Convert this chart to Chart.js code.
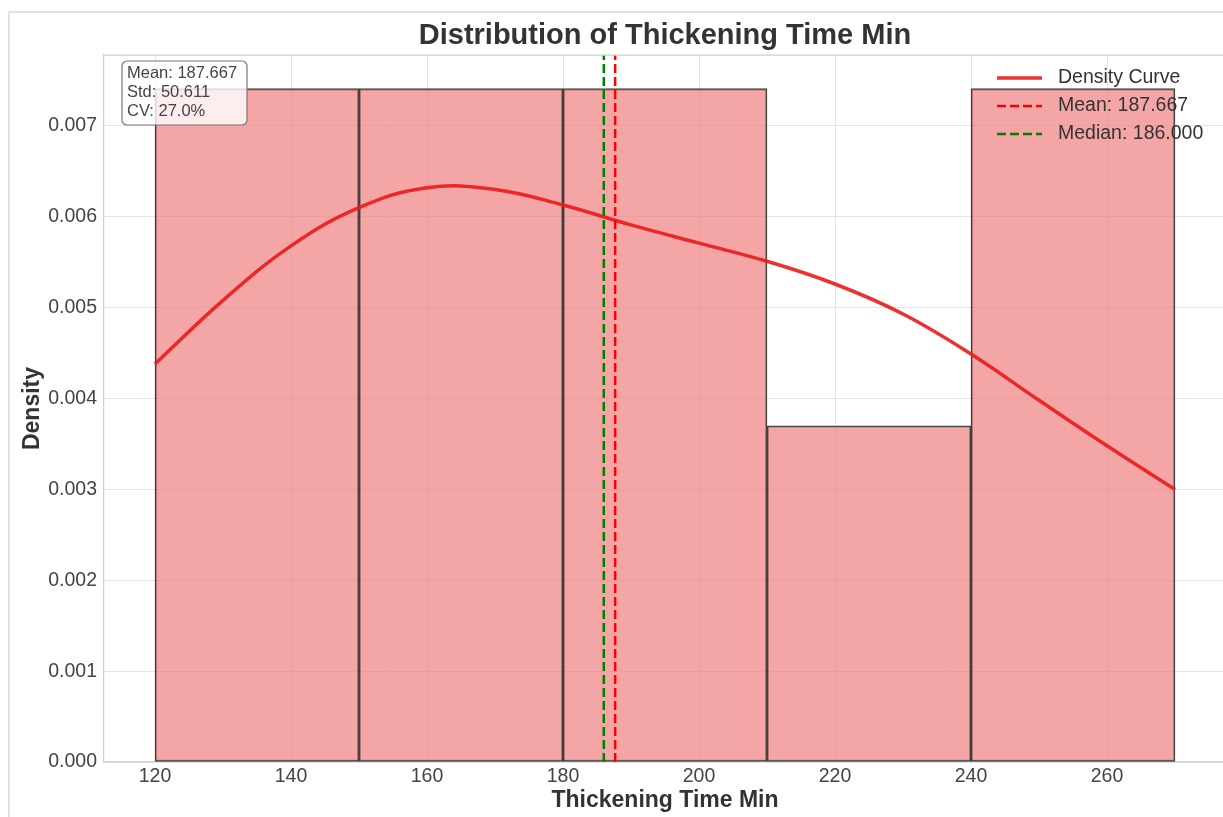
<!DOCTYPE html>
<html>
<head>
<meta charset="utf-8">
<script src="https://cdn.jsdelivr.net/npm/chart.js@4.4.1/dist/chart.umd.min.js"></script>
<style>
  html, body { margin:0; padding:0; background:#fff; overflow:hidden; width:1223px; height:817px; }
  #frame { position:absolute; left:8px; top:11px; width:1400px; height:1000px; border:2px solid #e2e2e2; box-sizing:border-box; }
  #wrap { position:absolute; left:0; top:0; width:1240px; height:817px; }
</style>
</head>
<body>
<div id="frame"></div>
<div id="wrap"><canvas id="c" width="1240" height="817"></canvas></div>
<script>
// ---- data ----
const binEdges = [120, 150, 180, 210, 240, 270];
const binDensity = [0.00741, 0.00741, 0.00741, 0.0037, 0.00741];
const kdeX = [120, 130, 140, 150, 160, 170, 180, 190, 200, 210, 220, 230, 240, 250, 260, 270];
const kdeY = [0.00438, 0.00508, 0.00568, 0.00610, 0.00632, 0.00630, 0.00613, 0.00591, 0.00571, 0.00551, 0.00526, 0.00493, 0.00449, 0.00398, 0.00348, 0.00300];
const meanValue = 187.667;
const medianValue = 186.0;
const stdValue = 50.611;
const cvValue = 27.0;
const xTicks = [120, 140, 160, 180, 200, 220, 240, 260];
const yTicks = [0, 0.001, 0.002, 0.003, 0.004, 0.005, 0.006, 0.007];
const xRange = [112.5, 277.5];
const yRange = [0, 0.00778];
const titleText = 'Distribution of Thickening Time Min';
const xLabel = 'Thickening Time Min';
const yLabel = 'Density';
const legendLabels = ['Density Curve', 'Mean: ' + meanValue.toFixed(3), 'Median: ' + medianValue.toFixed(3)];
const statsLines = ['Mean: ' + meanValue.toFixed(3), 'Std: ' + stdValue.toFixed(3), 'CV: ' + cvValue.toFixed(1) + '%'];

const FONT = "'Liberation Sans', Arial, sans-serif";
const binCenters = binEdges.slice(0, -1).map((e, i) => (e + binEdges[i + 1]) / 2);
const binWidth = binEdges[1] - binEdges[0];

const decorPlugin = {
  id: 'decor',
  afterDraw(chart) {
    const ctx = chart.ctx;
    const a = chart.chartArea;
    ctx.save();
    // top & right spines
    ctx.strokeStyle = '#d0d0d0';
    ctx.lineWidth = 1.25;
    ctx.beginPath();
    ctx.moveTo(a.left, a.top); ctx.lineTo(a.right, a.top); ctx.lineTo(a.right, a.bottom);
    ctx.stroke();
    // title
    ctx.fillStyle = '#333';
    ctx.font = 'bold 29px ' + FONT;
    ctx.textAlign = 'center';
    ctx.textBaseline = 'middle';
    ctx.fillText(titleText, (a.left + a.right) / 2, 36);
    // stats box
    const bx = 122, by = 61, bw = 125, bh = 64;
    ctx.beginPath();
    ctx.roundRect(bx, by, bw, bh, 5);
    ctx.fillStyle = 'rgba(255,255,255,0.8)';
    ctx.fill();
    ctx.strokeStyle = '#777';
    ctx.lineWidth = 1.2;
    ctx.stroke();
    ctx.fillStyle = '#444';
    ctx.font = '16.5px ' + FONT;
    ctx.textAlign = 'left';
    statsLines.forEach((t, i) => ctx.fillText(t, bx + 5, by + 12 + i * 19));
    // legend
    const lx = 997, lw = 45, tx = 1058;
    const rows = [78, 106, 134];
    const styles = [
      { color: 'rgba(235,25,25,0.9)', width: 3.5, dash: [] },
      { color: '#ff0000', width: 2.5, dash: [9, 4] },
      { color: '#008000', width: 2.5, dash: [9, 4] }
    ];
    ctx.font = '19.5px ' + FONT;
    rows.forEach((y, i) => {
      const s = styles[i];
      ctx.strokeStyle = s.color;
      ctx.lineWidth = s.width;
      ctx.setLineDash(s.dash);
      ctx.beginPath(); ctx.moveTo(lx, y); ctx.lineTo(lx + lw, y); ctx.stroke();
      ctx.setLineDash([]);
      ctx.fillStyle = '#333';
      ctx.fillText(legendLabels[i], tx, y);
    });
    ctx.restore();
  }
};

new Chart(document.getElementById('c'), {
  type: 'bar',
  data: {
    datasets: [
      {
        type: 'line', label: legendLabels[2], order: 0,
        data: [{ x: medianValue, y: yRange[0] }, { x: medianValue, y: yRange[1] }],
        borderColor: '#008000', borderWidth: 2.5, borderDash: [9, 4], pointRadius: 0
      },
      {
        type: 'line', label: legendLabels[1], order: 1,
        data: [{ x: meanValue, y: yRange[0] }, { x: meanValue, y: yRange[1] }],
        borderColor: '#ff0000', borderWidth: 2.5, borderDash: [9, 4], pointRadius: 0
      },
      {
        type: 'line', label: legendLabels[0], order: 2,
        data: kdeX.map((x, i) => ({ x, y: kdeY[i] })),
        borderColor: 'rgba(235,25,25,0.9)', borderWidth: 3.5, pointRadius: 0,
        tension: 0.4, fill: false
      },
      {
        type: 'bar', label: 'Histogram', order: 3,
        data: binCenters.map((x, i) => ({ x, y: binDensity[i] })),
        backgroundColor: 'rgba(240,128,128,0.7)',
        borderColor: 'rgba(0,0,0,0.72)', borderWidth: 1.5, borderSkipped: false,
        grouped: false,
        barThickness: (c) => {
          const s = c.chart.scales.x;
          return Math.abs(s.getPixelForValue(binEdges[0] + binWidth) - s.getPixelForValue(binEdges[0]));
        }
      }
    ]
  },
  options: {
    responsive: false,
    animation: false,
    devicePixelRatio: 1,
    layout: { padding: { left: 0, top: 55, right: 14, bottom: 0 } },
    plugins: { legend: { display: false }, tooltip: { enabled: false }, title: { display: false } },
    scales: {
      x: {
        type: 'linear', min: xRange[0], max: xRange[1], offset: false,
        afterBuildTicks: (s) => { s.ticks = xTicks.map(v => ({ value: v })); },
        afterFit: (s) => { s.height = 55; },
        grid: { color: 'rgba(204,204,204,0.5)', lineWidth: 1, drawTicks: false, offset: false },
        border: { color: '#d0d0d0', width: 1.25 },
        ticks: { color: '#444', font: { family: FONT, size: 19.5 }, padding: 3, maxRotation: 0, callback: v => String(v) },
        title: { display: true, text: xLabel, color: '#333', font: { family: FONT, size: 23, weight: 'bold' }, padding: { top: 0, bottom: 3 } }
      },
      y: {
        type: 'linear', min: yRange[0], max: yRange[1],
        afterBuildTicks: (s) => { s.ticks = yTicks.map(v => ({ value: v })); },
        afterFit: (s) => { s.width = 104; },
        grid: { color: 'rgba(204,204,204,0.5)', lineWidth: 1, drawTicks: false },
        border: { color: '#d0d0d0', width: 1.25 },
        ticks: { color: '#444', font: { family: FONT, size: 19.5 }, padding: 7, callback: v => Number(v).toFixed(3) },
        title: { display: true, text: yLabel, color: '#333', font: { family: FONT, size: 23, weight: 'bold' }, padding: { top: 19, bottom: 0 } }
      }
    }
  },
  plugins: [decorPlugin]
});
</script>
</body>
</html>
